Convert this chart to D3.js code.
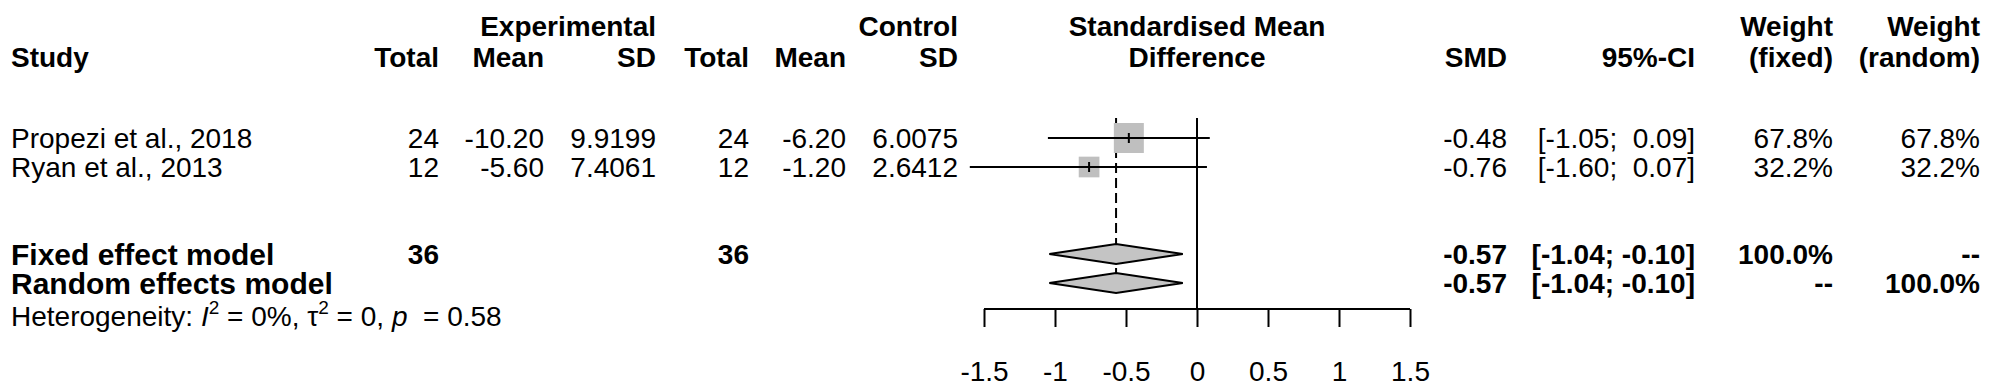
<!DOCTYPE html>
<html>
<head>
<meta charset="utf-8">
<script src="https://cdn.jsdelivr.net/npm/d3@7"></script>
<style>
body { margin: 0; background: #fff; }
text { font-family: "Liberation Sans", Arial, sans-serif; fill: #000; white-space: pre; }
</style>
</head>
<body>
<div id="chart"></div>
<script>
// forest plot: standardised mean difference
var w = 2008;
var h = 389;

// study data
var studies = ["Propezi et al., 2018", "Ryan et al., 2013"];
var expTotal = [24, 12];
var expMean = ["-10.20", "-5.60"];
var expSD = ["9.9199", "7.4061"];
var ctrlTotal = [24, 12];
var ctrlMean = ["-6.20", "-1.20"];
var ctrlSD = ["6.0075", "2.6412"];
var smd = [-0.48, -0.76];
var ciLow = [-1.05, -1.60];
var ciHigh = [0.09, 0.07];
var wFixed = [67.8, 32.2];
var wRandom = [67.8, 32.2];

// pooled results
var models = ["Fixed effect model", "Random effects model"];
var modelTotalExp = ["36", ""];
var modelTotalCtrl = ["36", ""];
var modelEst = [-0.57, -0.57];
var modelLow = [-1.04, -1.04];
var modelHigh = [-0.10, -0.10];
var modelWFixed = ["100.0%", "--"];
var modelWRandom = ["--", "100.0%"];

var ticks = [-1.5, -1, -0.5, 0, 0.5, 1, 1.5];

var fs = 28;
var svg = d3.select("#chart").append("svg")
    .attr("width", w)
    .attr("height", h);

var x = d3.scaleLinear().domain([-1.5, 1.5]).range([984, 1410]);
var row = d3.scaleLinear().domain([0, 1]).range([138, 167]); // row index -> y centre

// column right edges
var cols = { eT: 439, eM: 544, eS: 656, cT: 749, cM: 846, cS: 958, smd: 1507, ci: 1695, wf: 1833, wr: 1980 };

function txt(xp, yc, s, anchor, bold, size) {
    size = size || fs;
    return svg.append("text")
        .attr("x", xp)
        .attr("y", yc + size * 0.36)
        .attr("text-anchor", anchor)
        .style("font-size", size + "px")
        .style("font-weight", bold ? "bold" : "normal")
        .text(s);
}

function fmt(v) { return v.toFixed(2); }
function ci(lo, hi) {
    var a = fmt(lo), b = fmt(hi);
    if (b[0] != "-") b = " " + b;
    return "[" + a + "; " + b + "]";
}

// headers
var h1 = 26, h2 = 57;
txt(cols.eS, h1, "Experimental", "end", true);
txt(cols.cS, h1, "Control", "end", true);
txt(x(0), h1, "Standardised Mean", "middle", true);
txt(cols.wf, h1, "Weight", "end", true);
txt(cols.wr, h1, "Weight", "end", true);

txt(11, h2, "Study", "start", true);
txt(cols.eT, h2, "Total", "end", true);
txt(cols.eM, h2, "Mean", "end", true);
txt(cols.eS, h2, "SD", "end", true);
txt(cols.cT, h2, "Total", "end", true);
txt(cols.cM, h2, "Mean", "end", true);
txt(cols.cS, h2, "SD", "end", true);
txt(x(0), h2, "Difference", "middle", true);
txt(cols.smd, h2, "SMD", "end", true);
txt(cols.ci, h2, "95%-CI", "end", true);
txt(cols.wf, h2, "(fixed)", "end", true);
txt(cols.wr, h2, "(random)", "end", true);

// study rows
studies.forEach(function(s, i) {
    var y = row(i);
    txt(11, y, s, "start", false);
    txt(cols.eT, y, String(expTotal[i]), "end", false);
    txt(cols.eM, y, expMean[i], "end", false);
    txt(cols.eS, y, expSD[i], "end", false);
    txt(cols.cT, y, String(ctrlTotal[i]), "end", false);
    txt(cols.cM, y, ctrlMean[i], "end", false);
    txt(cols.cS, y, ctrlSD[i], "end", false);
    txt(cols.smd, y, fmt(smd[i]), "end", false);
    txt(cols.ci, y, ci(ciLow[i], ciHigh[i]), "end", false);
    txt(cols.wf, y, wFixed[i].toFixed(1) + "%", "end", false);
    txt(cols.wr, y, wRandom[i].toFixed(1) + "%", "end", false);
});

// model rows
models.forEach(function(m, i) {
    var y = row(i + 4);
    txt(11, y, m, "start", true, 30);
    txt(cols.eT, y, modelTotalExp[i], "end", true);
    txt(cols.cT, y, modelTotalCtrl[i], "end", true);
    txt(cols.smd, y, fmt(modelEst[i]), "end", true);
    txt(cols.ci, y, ci(modelLow[i], modelHigh[i]), "end", true);
    txt(cols.wf, y, modelWFixed[i], "end", true);
    txt(cols.wr, y, modelWRandom[i], "end", true);
});

// heterogeneity line
var hs = 28;
var het = svg.append("text")
    .attr("x", 11)
    .attr("y", row(6) + 4 + hs * 0.36)
    .style("font-size", hs + "px");
het.append("tspan").text("Heterogeneity: ");
het.append("tspan").style("font-style", "italic").text("I");
het.append("tspan").attr("dy", -12).style("font-size", "19px").text("2");
het.append("tspan").attr("dy", 12).text(" = 0%, \u03c4");
het.append("tspan").attr("dy", -12).style("font-size", "19px").text("2");
het.append("tspan").attr("dy", 12).text(" = 0, ");
het.append("tspan").style("font-style", "italic").text("p");
het.append("tspan").text("  = 0.58");

// reference lines
var axisY = 309;
svg.append("line")
    .attr("x1", x(0)).attr("x2", x(0))
    .attr("y1", 118).attr("y2", axisY)
    .attr("stroke", "#000").attr("stroke-width", 2);

svg.append("line")
    .attr("x1", x(modelEst[0])).attr("x2", x(modelEst[0]))
    .attr("y1", 118).attr("y2", row(5) + 10)
    .attr("stroke", "#000").attr("stroke-width", 2)
    .attr("stroke-dasharray", "10,5");

// study CIs and squares
var maxW = d3.max(wFixed);
studies.forEach(function(s, i) {
    var y = row(i);
    var size = 30 * Math.sqrt(wFixed[i] / maxW);
    svg.append("rect")
        .attr("x", x(smd[i]) - size / 2)
        .attr("y", y - size / 2)
        .attr("width", size)
        .attr("height", size)
        .attr("fill", "#bfbfbf");
    svg.append("line")
        .attr("x1", x(ciLow[i])).attr("x2", x(ciHigh[i]))
        .attr("y1", y).attr("y2", y)
        .attr("stroke", "#000").attr("stroke-width", 2);
    svg.append("line")
        .attr("x1", x(smd[i])).attr("x2", x(smd[i]))
        .attr("y1", y - 5).attr("y2", y + 5)
        .attr("stroke", "#000").attr("stroke-width", 2);
});

// diamonds
models.forEach(function(m, i) {
    var y = row(i + 4);
    var pts = [[x(modelLow[i]), y], [x(modelEst[i]), y - 10], [x(modelHigh[i]), y], [x(modelEst[i]), y + 10]];
    svg.append("path")
        .attr("d", d3.line()(pts) + "Z")
        .attr("fill", "#c4c4c4")
        .attr("stroke", "#000")
        .attr("stroke-width", 2);
});

// x axis
var xAxis = d3.axisBottom(x).tickValues(ticks).tickSize(18).tickPadding(34)
    .tickFormat(function(d) { return String(d); });
var ax = svg.append("g")
    .attr("transform", "translate(0," + axisY + ")")
    .call(xAxis);
ax.select(".domain").attr("stroke-width", 2).attr("d", "M" + x(-1.5) + ",0H" + x(1.5));
ax.selectAll(".tick line").attr("stroke-width", 2);
ax.selectAll(".tick text")
    .style("font-size", "28px")
    .style("font-family", "'Liberation Sans', Arial, sans-serif")
    .attr("fill", "#000");
</script>
</body>
</html>
